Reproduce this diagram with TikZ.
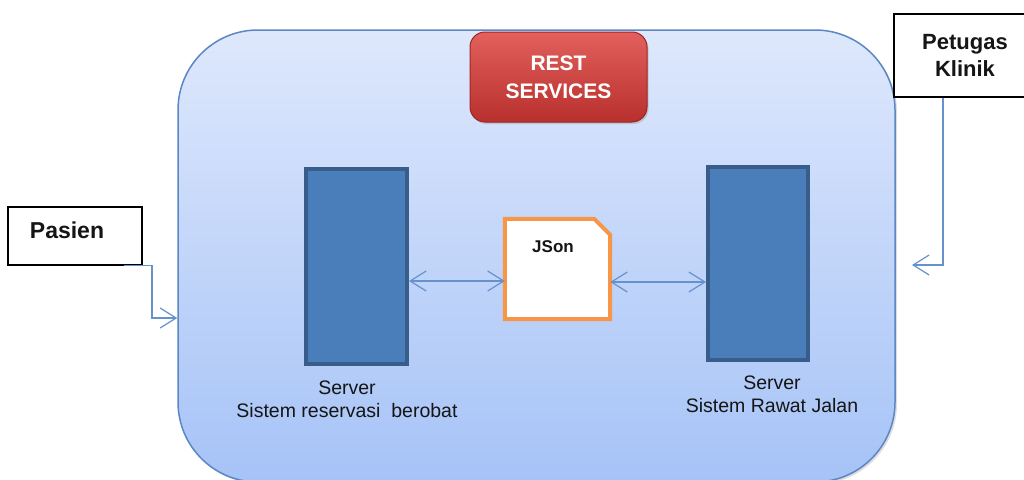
\documentclass[tikz,border=0pt]{standalone}
\usepackage{fontspec}
\setmainfont{Liberation Sans}
\usetikzlibrary{arrows.meta,shadows}
\definecolor{mainborder}{HTML}{5B87C5}
\definecolor{maintop}{HTML}{DEE8FC}
\definecolor{mainbot}{HTML}{A6C3F7}
\definecolor{srvfill}{HTML}{4A7EBB}
\definecolor{srvborder}{HTML}{385D8A}
\definecolor{jsonorange}{HTML}{F79646}
\definecolor{connblue}{HTML}{6592CC}
\definecolor{resttop}{HTML}{E2605D}
\definecolor{restbot}{HTML}{B8302D}
\definecolor{restborder}{HTML}{9E2624}
\definecolor{txtdark}{HTML}{151515}
\tikzset{
  mainbox/.style={draw=mainborder, line width=1.5pt, rounded corners=80pt,
    top color=maintop, bottom color=mainbot, minimum width=717pt, minimum height=452pt,
    drop shadow={shadow xshift=2pt, shadow yshift=-2pt, fill=black!25}},
  actorbox/.style={draw=black, line width=1.3pt, fill=white, inner sep=0pt},
  restbox/.style={draw=restborder, line width=1pt, rounded corners=15pt,
    top color=resttop, bottom color=restbot, minimum width=177pt, minimum height=90pt,
    drop shadow={shadow xshift=1.5pt, shadow yshift=-2pt, fill=black!35},
    text=white, font=\fontsize{21}{28}\selectfont\bfseries, align=center},
  srvbox/.style={draw=srvborder, line width=4pt, fill=srvfill, inner sep=0pt},
  jsonfr/.style={draw=jsonorange, line width=4pt, fill=white},
  conn/.style={draw=connblue, line width=1.2pt},
  dbl/.style={conn, {Straight Barb[length=16pt,width=20pt]}-{Straight Barb[length=16pt,width=20pt]}},
  sgl/.style={conn, -{Straight Barb[length=16pt,width=20pt]}},
  lbl/.style={text=txtdark, font=\fontsize{19.5}{23}\selectfont, align=center},
}
\begin{document}
\begin{tikzpicture}[x=1pt,y=-1pt]
\clip (0,0) rectangle (1024,479);
\fill[white] (0,0) rectangle (1024,479);
% main container
\node[mainbox] (main) at (536.5,256) {};
% REST services
\node[restbox] (rest) at (558.5,77) {REST\\SERVICES};
% servers
\node[srvbox, minimum width=101pt, minimum height=195pt] (lsrv) at (356.5,266.5) {};
\node[srvbox, minimum width=100pt, minimum height=193pt] (rsrv) at (758,263.5) {};
% JSon document
\node[minimum width=105pt, minimum height=100pt, inner sep=0pt] (json) at (557.5,269) {};
\draw[jsonfr] (json.south west) -- (json.north west) -- ([xshift=-16pt]json.north east)
  -- ([yshift=-16pt]json.north east) -- (json.south east) -- cycle;
\node[text=txtdark, font=\fontsize{17}{20}\selectfont\bfseries] (jsonlbl) at (553,247) {JSon};
% labels
\node[lbl] (lsrvlbl) at (347,399.5) {Server\\Sistem reservasi\ \ berobat};
\node[lbl] (rsrvlbl) at (772,394) {Server\\Sistem Rawat Jalan};
% actors
\node[actorbox, minimum width=134pt, minimum height=58pt, font=\fontsize{23}{27}\selectfont\bfseries, text=txtdark] (pasien) at (75,236) {Pasien\hspace{16pt}\rule[-12pt]{0pt}{0pt}};
\node[actorbox, minimum width=142pt, minimum height=83pt, font=\fontsize{22}{27}\selectfont\bfseries, text=txtdark, align=center] (petugas) at (965,55.5) {Petugas\\Klinik};
% connectors
\draw[dbl] (lsrv.east |- 0,281) -- (json.west |- 0,281);
\draw[dbl] (json.east |- 0,282) -- (rsrv.west |- 0,282);
\draw[sgl] ([xshift=-19pt]pasien.south east) -| (152,318) -- (main.west |- 0,318);
\coordinate (petin) at (912,265);
\draw[sgl] ([xshift=-22pt]petugas.south) |- (petin);
\end{tikzpicture}
\end{document}
